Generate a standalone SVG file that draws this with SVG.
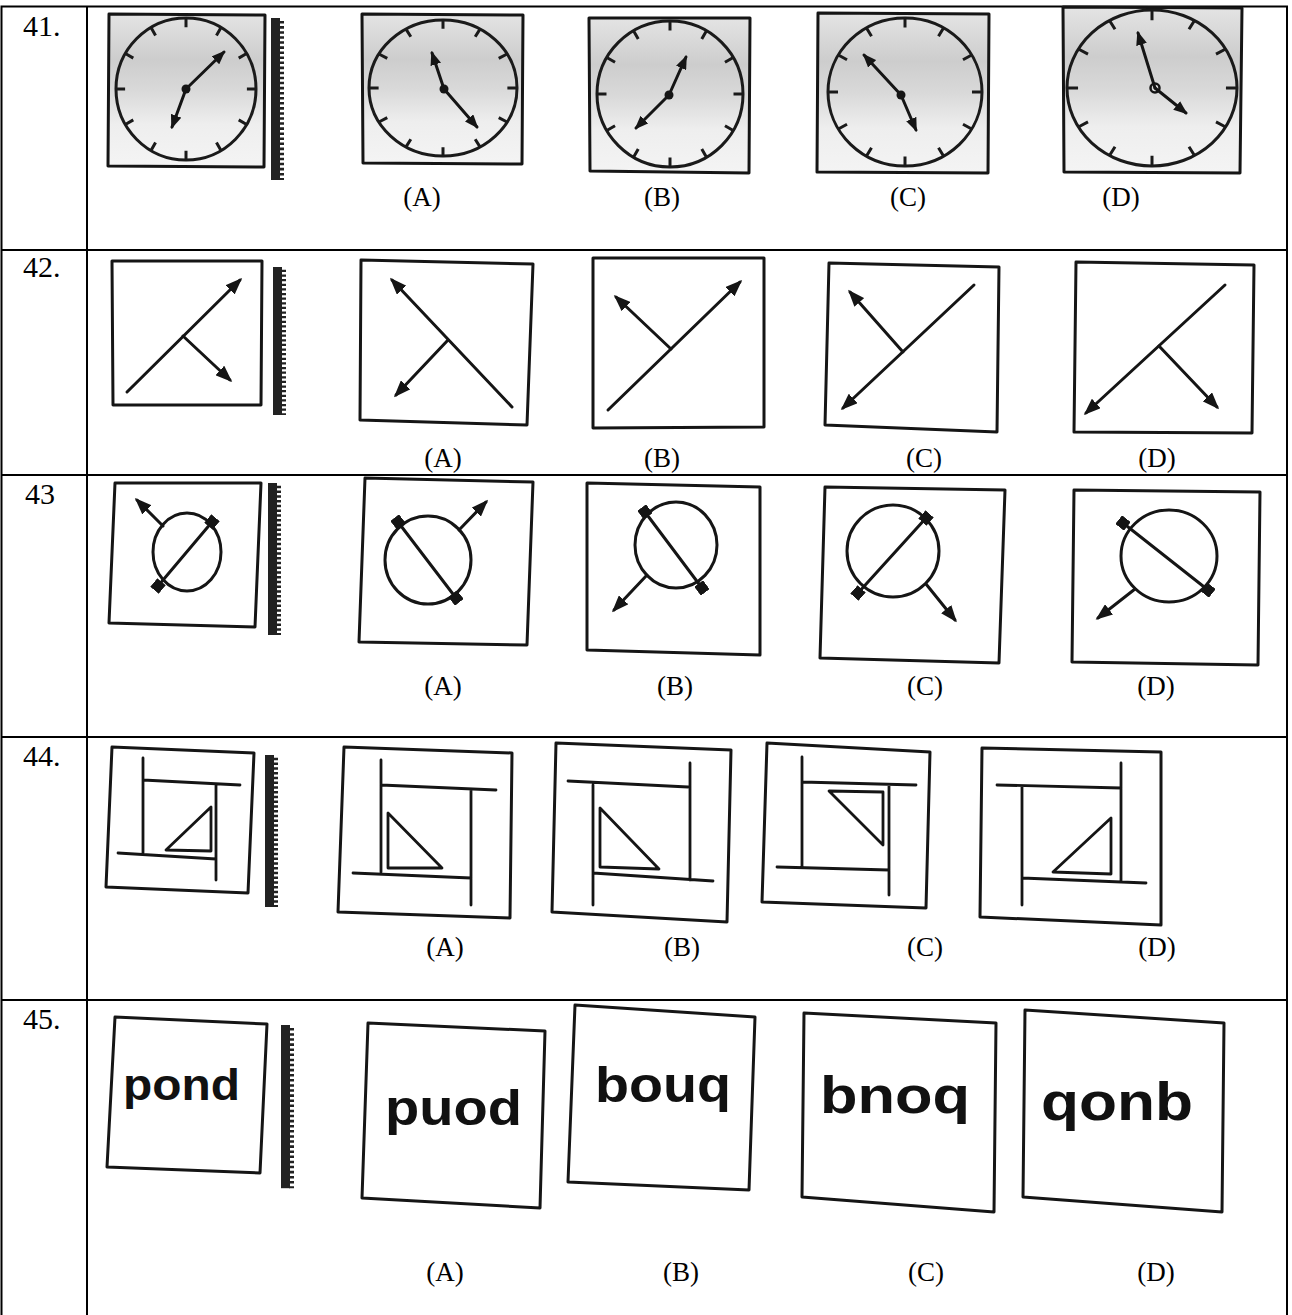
<svg xmlns="http://www.w3.org/2000/svg" xmlns:xlink="http://www.w3.org/1999/xlink" width="1292" height="1315" viewBox="0 0 1292 1315">
<style>
.grid{fill:none;stroke:#000;stroke-width:2}
.box{fill:none;stroke:#151515;stroke-width:3;stroke-linejoin:round}
.sbox{fill:url(#scan);stroke:#151515;stroke-width:3;stroke-linejoin:round}
.ln{fill:none;stroke:#151515;stroke-width:3;stroke-linecap:round}
.thin{fill:none;stroke:#151515;stroke-width:2.8;stroke-linecap:round;stroke-linejoin:round}
.ar{marker-end:url(#ah)}
.hs{marker-end:url(#ahs)}
.dm{marker-start:url(#dm);marker-end:url(#dm)}
.nss{vector-effect:non-scaling-stroke;fill:none;stroke:#1a1a1a;stroke-width:3}
.lbl{font-family:"Liberation Serif","Times New Roman",serif;font-size:27px;fill:#000;text-anchor:middle}
.num{font-family:"Liberation Serif","Times New Roman",serif;font-size:30px;fill:#000}
.word{font-family:"Liberation Sans",Arial,sans-serif;font-weight:bold;fill:#111}
</style>
<defs>
<linearGradient id="scan" x1="0" y1="0" x2="0" y2="1">
<stop offset="0" stop-color="#e4e4e4"/>
<stop offset="0.3" stop-color="#cdcdcd"/>
<stop offset="0.5" stop-color="#d9d9d9"/>
<stop offset="0.72" stop-color="#eeeeee"/>
<stop offset="1" stop-color="#f4f4f4"/>
</linearGradient>
<marker id="ah" viewBox="0 0 17 13" refX="14" refY="6.5" markerWidth="17" markerHeight="13" markerUnits="userSpaceOnUse" orient="auto"><path d="M0,0 L17,6.5 L0,13 z" fill="#151515"/></marker>
<marker id="ahs" viewBox="0 0 14 11" refX="12" refY="5.5" markerWidth="14" markerHeight="11" markerUnits="userSpaceOnUse" orient="auto"><path d="M0,0 L14,5.5 L0,11 z" fill="#151515"/></marker>
<marker id="dm" viewBox="0 0 11 11" refX="5.5" refY="5.5" markerWidth="11" markerHeight="11" markerUnits="userSpaceOnUse" orient="auto"><rect width="11" height="11" fill="#151515"/></marker>
<g id="face">
<ellipse cx="0" cy="0" rx="100" ry="100" class="nss"/>
<path class="nss" d="M0,-100V-87 M50,-86.6L43.5,-75.3 M86.6,-50L75.3,-43.5 M100,0H87 M86.6,50L75.3,43.5 M50,86.6L43.5,75.3 M0,100V87 M-50,86.6L-43.5,75.3 M-86.6,50L-75.3,43.5 M-100,0H-87 M-86.6,-50L-75.3,-43.5 M-50,-86.6L-43.5,-75.3"/>
</g>
<g id="mir">
<rect x="0" y="0" width="9" height="160" fill="#222"/>
<line x1="10.5" y1="3" x2="10.5" y2="160" stroke="#222" stroke-width="5" stroke-dasharray="2.5 2.5"/>
</g>
</defs>

<g id="table">
<path class="grid" d="M1.5,1315 V6.5 H1287 V1315 M87,6.5 V1315 M1.5,250 H1287 M1.5,475 H1287 M1.5,737 H1287 M1.5,1000 H1287"/>
<text class="num" x="23" y="36">41.</text>
<text class="num" x="23" y="277">42.</text>
<text class="num" x="25" y="504">43</text>
<text class="num" x="23" y="766">44.</text>
<text class="num" x="23" y="1029">45.</text>
</g>

<!-- Row 41 -->
<g id="q41-question">
<polygon class="sbox" points="109,14 265,15 264,167 108,166"/>
<use xlink:href="#face" href="#face" transform="translate(186,89) scale(0.70,0.71)"/>
<line class="ln hs" x1="186" y1="89" x2="224" y2="52"/>
<line class="ln hs" x1="186" y1="89" x2="172" y2="127"/>
<circle cx="186" cy="89" r="4.5" fill="#151515"/>
<use xlink:href="#mir" href="#mir" transform="translate(271,18) scale(1,1.0125)"/>
</g>
<g id="q41-A">
<polygon class="sbox" points="362,14 523,15 522,164 363,163"/>
<use xlink:href="#face" href="#face" transform="translate(443,88) scale(0.74,0.68)"/>
<line class="ln hs" x1="444" y1="89" x2="432" y2="53"/>
<line class="ln hs" x1="444" y1="89" x2="477" y2="127"/>
<circle cx="444" cy="89" r="4.5" fill="#151515"/>
<text class="lbl" x="422" y="206">(A)</text>
</g>
<g id="q41-B">
<polygon class="sbox" points="589,18 750,18 749,173 590,171"/>
<use xlink:href="#face" href="#face" transform="translate(670,94) scale(0.73,0.73)"/>
<line class="ln hs" x1="669" y1="95" x2="686" y2="57"/>
<line class="ln hs" x1="669" y1="95" x2="636" y2="128"/>
<circle cx="669" cy="95" r="4.5" fill="#151515"/>
<text class="lbl" x="662" y="206">(B)</text>
</g>
<g id="q41-C">
<polygon class="sbox" points="818,13 989,14 988,173 817,172"/>
<use xlink:href="#face" href="#face" transform="translate(905,92) scale(0.77,0.74)"/>
<line class="ln hs" x1="901" y1="95" x2="864" y2="55"/>
<line class="ln hs" x1="901" y1="95" x2="916" y2="130"/>
<circle cx="901" cy="95" r="4.5" fill="#151515"/>
<text class="lbl" x="908" y="206">(C)</text>
</g>
<g id="q41-D">
<polygon class="sbox" points="1063,7 1242,8 1240,173 1064,172"/>
<use xlink:href="#face" href="#face" transform="translate(1152,88) scale(0.85,0.78)"/>
<line class="ln hs" x1="1155" y1="88" x2="1138" y2="33"/>
<line class="ln hs" x1="1155" y1="88" x2="1186" y2="113"/>
<circle cx="1155" cy="88" r="4.5" fill="none" stroke="#151515" stroke-width="2.5"/>
<text class="lbl" x="1121" y="206">(D)</text>
</g>

<!-- Row 42 -->
<g id="q42-question">
<polygon class="box" points="112,261 262,261 261,405 113,405"/>
<line class="ln ar" x1="127" y1="392" x2="240" y2="280"/>
<line class="ln ar" x1="183" y1="336" x2="230" y2="380"/>
<use xlink:href="#mir" href="#mir" transform="translate(273,267) scale(1,0.925)"/>
</g>
<g id="q42-A">
<polygon class="box" points="361,260 533,264 527,425 360,420"/>
<line class="ln ar" x1="512" y1="407" x2="392" y2="280"/>
<line class="ln ar" x1="448" y1="340" x2="396" y2="395"/>
<text class="lbl" x="443" y="467">(A)</text>
</g>
<g id="q42-B">
<polygon class="box" points="593,258 764,258 764,427 593,428"/>
<line class="ln ar" x1="608" y1="410" x2="740" y2="282"/>
<line class="ln ar" x1="671" y1="349" x2="616" y2="297"/>
<text class="lbl" x="662" y="467">(B)</text>
</g>
<g id="q42-C">
<polygon class="box" points="829,263 999,267 997,432 825,425"/>
<line class="ln ar" x1="974" y1="285" x2="843" y2="408"/>
<line class="ln ar" x1="903" y1="352" x2="850" y2="292"/>
<text class="lbl" x="924" y="467">(C)</text>
</g>
<g id="q42-D">
<polygon class="box" points="1076,262 1254,265 1252,433 1074,432"/>
<line class="ln ar" x1="1225" y1="285" x2="1086" y2="413"/>
<line class="ln ar" x1="1159" y1="346" x2="1217" y2="407"/>
<text class="lbl" x="1157" y="467">(D)</text>
</g>

<!-- Row 43 -->
<g id="q43-question">
<polygon class="box" points="115,483 261,483 255,627 109,623"/>
<ellipse class="ln" cx="187" cy="552" rx="34" ry="39"/>
<line class="ln dm" x1="158" y1="586" x2="212" y2="522"/>
<line class="ln ar" x1="163" y1="526" x2="137" y2="500"/>
<use xlink:href="#mir" href="#mir" transform="translate(268,483) scale(1,0.95)"/>
</g>
<g id="q43-A">
<polygon class="box" points="365,478 533,482 527,645 359,642"/>
<ellipse class="ln" cx="428" cy="560" rx="43" ry="44"/>
<line class="ln dm" x1="398" y1="522" x2="456" y2="598"/>
<line class="ln ar" x1="459" y1="530" x2="486" y2="502"/>
<text class="lbl" x="443" y="695">(A)</text>
</g>
<g id="q43-B">
<polygon class="box" points="587,483 760,487 760,655 587,650"/>
<ellipse class="ln" cx="676" cy="545" rx="41" ry="43"/>
<line class="ln dm" x1="645" y1="512" x2="702" y2="588"/>
<line class="ln ar" x1="647" y1="575" x2="614" y2="610"/>
<text class="lbl" x="675" y="695">(B)</text>
</g>
<g id="q43-C">
<polygon class="box" points="825,487 1005,490 999,663 820,658"/>
<ellipse class="ln" cx="893" cy="551" rx="46" ry="46"/>
<line class="ln dm" x1="926" y1="518" x2="858" y2="593"/>
<line class="ln ar" x1="926" y1="584" x2="955" y2="620"/>
<text class="lbl" x="925" y="695">(C)</text>
</g>
<g id="q43-D">
<polygon class="box" points="1074,490 1260,492 1258,665 1072,662"/>
<ellipse class="ln" cx="1169" cy="556" rx="48" ry="46"/>
<line class="ln dm" x1="1123" y1="523" x2="1208" y2="590"/>
<line class="ln ar" x1="1135" y1="589" x2="1098" y2="618"/>
<text class="lbl" x="1156" y="695">(D)</text>
</g>

<!-- Row 44 -->
<g id="q44-question">
<polygon class="box" points="112,747 254,753 248,893 106,887"/>
<path class="thin" d="M143,758 V853 M143,780 L240,785 M216,785 V880 M118,853 L216,859"/>
<polygon class="thin" points="166,850 211,807 211,851"/>
<use xlink:href="#mir" href="#mir" transform="translate(265,755) scale(1,0.95)"/>
</g>
<g id="q44-A">
<polygon class="box" points="344,747 512,753 510,918 338,912"/>
<path class="thin" d="M381,760 V872 M381,785 L496,790 M471,790 V905 M353,873 L471,878"/>
<polygon class="thin" points="388,813 388,868 442,868"/>
<text class="lbl" x="445" y="956">(A)</text>
</g>
<g id="q44-B">
<polygon class="box" points="556,743 731,750 727,922 552,912"/>
<path class="thin" d="M568,781 L688,787 M690,763 V880 M593,785 V905 M593,873 L713,881"/>
<polygon class="thin" points="600,808 600,867 659,869"/>
<text class="lbl" x="682" y="956">(B)</text>
</g>
<g id="q44-C">
<polygon class="box" points="767,743 930,752 926,908 762,902"/>
<path class="thin" d="M802,757 V867 M802,782 L916,785 M889,785 V895 M777,867 L889,870"/>
<polygon class="thin" points="829,791 883,792 883,845"/>
<text class="lbl" x="925" y="956">(C)</text>
</g>
<g id="q44-D">
<polygon class="box" points="982,748 1161,752 1161,925 980,917"/>
<path class="thin" d="M997,785 L1121,788 M1121,763 V882 M1022,787 V905 M1022,878 L1146,883"/>
<polygon class="thin" points="1111,818 1111,874 1053,872"/>
<text class="lbl" x="1157" y="956">(D)</text>
</g>

<!-- Row 45 -->
<g id="q45-question">
<polygon class="box" points="115,1017 267,1024 260,1173 107,1167"/>
<text class="word" x="123" y="1100" font-size="44" textLength="117" lengthAdjust="spacingAndGlyphs">pond</text>
<use xlink:href="#mir" href="#mir" transform="translate(281,1025) scale(1,1.02)"/>
</g>
<g id="q45-A">
<polygon class="box" points="368,1023 545,1031 540,1208 362,1198"/>
<text class="word" x="385" y="1125" font-size="50" textLength="137" lengthAdjust="spacingAndGlyphs">puod</text>
<text class="lbl" x="445" y="1281">(A)</text>
</g>
<g id="q45-B">
<polygon class="box" points="575,1005 755,1017 749,1190 568,1182"/>
<text class="word" x="595" y="1102" font-size="50" textLength="136" lengthAdjust="spacingAndGlyphs">bouq</text>
<text class="lbl" x="681" y="1281">(B)</text>
</g>
<g id="q45-C">
<polygon class="box" points="804,1013 996,1023 994,1212 802,1197"/>
<text class="word" x="820" y="1113" font-size="52" textLength="150" lengthAdjust="spacingAndGlyphs">bnoq</text>
<text class="lbl" x="926" y="1281">(C)</text>
</g>
<g id="q45-D">
<polygon class="box" points="1025,1010 1224,1023 1222,1212 1023,1197"/>
<text class="word" x="1041" y="1120" font-size="54" textLength="152" lengthAdjust="spacingAndGlyphs">qonb</text>
<text class="lbl" x="1156" y="1281">(D)</text>
</g>
</svg>
